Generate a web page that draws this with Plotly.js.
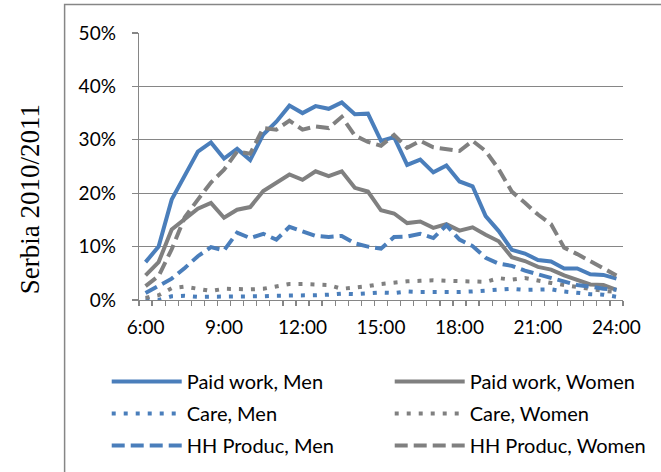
<!DOCTYPE html>
<html>
<head>
<meta charset="utf-8">
<script src="https://cdn.plot.ly/plotly-3.0.1.min.js"></script>
<style>html,body{margin:0;padding:0;background:#fff;}#chart{width:661px;height:472px;}</style>
</head>
<body>
<div id="chart"></div>
<script>
// Half-hour time slots, 6:00 to 24:00
const timeLabels = ["6:00","6:30","7:00","7:30","8:00","8:30","9:00","9:30","10:00","10:30","11:00","11:30","12:00","12:30","13:00","13:30","14:00","14:30","15:00","15:30","16:00","16:30","17:00","17:30","18:00","18:30","19:00","19:30","20:00","20:30","21:00","21:30","22:00","22:30","23:00","23:30","24:00"];
const tickLabels = ["6:00","9:00","12:00","15:00","18:00","21:00","24:00"];

// Shares of population (%)
const paidWorkMen   = [7.1,10.0,18.8,23.2,27.8,29.5,26.5,28.3,26.2,31.0,33.4,36.4,35.0,36.3,35.8,37.0,34.8,34.9,29.8,30.5,25.3,26.3,23.9,25.2,22.2,21.3,15.7,12.9,9.4,8.7,7.5,7.2,5.9,5.9,4.8,4.7,4.0];
const paidWorkWomen = [4.6,7.1,13.2,15.2,17.1,18.2,15.4,16.9,17.4,20.4,21.9,23.5,22.5,24.1,23.2,24.1,21.0,20.3,16.8,16.2,14.4,14.7,13.5,14.2,13.0,13.6,12.2,11.0,8.0,7.3,6.2,5.7,4.6,3.7,2.9,2.8,1.9];
const careMen       = [0.2,0.0,0.7,0.8,0.6,0.6,0.7,0.6,0.7,0.7,0.8,0.8,0.9,0.9,1.0,1.2,1.1,1.2,1.4,1.3,1.6,1.5,1.5,1.4,1.5,1.6,1.8,2.0,2.1,1.9,2.0,2.0,1.6,1.3,1.1,1.0,0.6];
const careWomen     = [0.4,0.9,2.2,2.5,2.1,1.7,2.1,2.0,2.0,2.1,2.6,3.0,3.0,2.9,2.8,2.1,2.3,2.6,3.0,3.3,3.5,3.6,3.7,3.6,3.5,3.5,3.4,4.1,3.8,4.1,3.6,3.2,2.8,2.4,2.1,1.7,1.5];
const hhProducMen   = [1.3,2.6,4.0,6.0,8.2,9.9,9.3,12.6,11.6,12.4,11.3,13.7,12.8,12.0,11.8,12.0,10.6,10.0,9.6,11.8,11.9,12.4,11.6,14.0,11.3,10.1,7.9,6.8,6.4,5.5,4.8,4.1,3.5,2.8,2.5,2.1,1.9];
const hhProducWomen = [2.6,4.5,9.5,15.5,18.8,22.0,24.4,27.8,27.4,32.2,31.9,33.6,31.9,32.5,32.2,34.3,30.8,29.6,28.9,30.9,28.5,29.8,28.6,28.3,27.9,29.8,27.9,24.5,20.3,18.2,16.0,14.2,9.8,8.6,7.3,5.8,4.6];

const seriesNames = ["Paid work, Men","Paid work, Women","Care, Men","Care, Women","HH Produc, Men","HH Produc, Women"];

const BLUE = "#4A7EBB";
const GRAY = "#808080";
const AXIS = "#868686";
const FONT = "Lato, 'Liberation Sans', sans-serif";

function toHours(t){ const p = t.split(":"); return Number(p[0]) + Number(p[1])/60; }
const xHours = timeLabels.map(toHours);
const tickHours = tickLabels.map(toHours);
const pct = a => a.map(v => v/100);

// [values, colour, dash, legend]
const specs = [
  [paidWorkMen,   BLUE, "solid",    "legend"],
  [paidWorkWomen, GRAY, "solid",    "legend2"],
  [careMen,       BLUE, "4px,8px",  "legend"],
  [careWomen,     GRAY, "4px,8px",  "legend2"],
  [hhProducMen,   BLUE, "13px,6px", "legend"],
  [hhProducWomen, GRAY, "13px,6px", "legend2"]
];
const traces = specs.map((s, k) => ({
  type: "scatter", mode: "lines", name: seriesNames[k],
  x: xHours, y: pct(s[0]),
  line: {color: s[1], width: 4, dash: s[2]},
  legend: s[3], legendgroup: "g" + k,
  hoverinfo: "skip"
}));

const legendBase = {
  orientation: "v", xanchor: "left", y: -0.232, yanchor: "top",
  itemwidth: 70, traceorder: "grouped", tracegroupgap: 3,
  font: {family: FONT, size: 20, color: "#000"}, bgcolor: "rgba(0,0,0,0)"
};

const layout = {
  width: 661, height: 472,
  margin: {l: 139, r: 38, t: 33, b: 172, pad: 0, autoexpand: false},
  paper_bgcolor: "#fff", plot_bgcolor: "#fff",
  font: {family: FONT, size: 19, color: "#000"},
  showlegend: true,
  legend:  Object.assign({}, legendBase, {x: -0.0667}),
  legend2: Object.assign({}, legendBase, {x: 0.518}),
  xaxis: {
    range: [5.75, 24.25], tickmode: "array", tickvals: tickHours, ticktext: tickLabels,
    ticks: "", showgrid: false, zeroline: false,
    showline: true, linecolor: AXIS, linewidth: 1.3,
    ticklabelstandoff: 10,
    tickfont: {family: FONT, size: 19, color: "#000"},
    minor: {tickmode: "linear", tick0: 5.75, dtick: 0.5, ticks: "outside", ticklen: 5, tickwidth: 1.3, tickcolor: AXIS, showgrid: false},
    fixedrange: true
  },
  yaxis: {
    range: [0, 0.5], dtick: 0.1, tickformat: ".0%",
    showgrid: true, gridcolor: AXIS, gridwidth: 1.3, zeroline: false,
    showline: true, linecolor: AXIS, linewidth: 1.3,
    ticks: "outside", ticklen: 6, tickwidth: 1.3, tickcolor: AXIS,
    ticklabelstandoff: 12,
    tickfont: {family: FONT, size: 19, color: "#000"},
    fixedrange: true
  },
  annotations: [{
    text: "Serbia 2010/2011", textangle: -90, showarrow: false,
    xref: "paper", yref: "paper", x: -0.226, y: 0.376, xanchor: "center", yanchor: "middle",
    font: {family: "'Liberation Serif', 'Times New Roman', serif", size: 27, color: "#000"}
  }],
  shapes: [{
    type: "path", xref: "paper", yref: "paper",
    path: "M -0.1537,-0.7 L -0.1537,1.107 L 1.2,1.107",
    line: {color: AXIS, width: 1.5}
  }]
};

Plotly.newPlot("chart", traces, layout, {displayModeBar: false, staticPlot: true});
</script>
</body>
</html>
